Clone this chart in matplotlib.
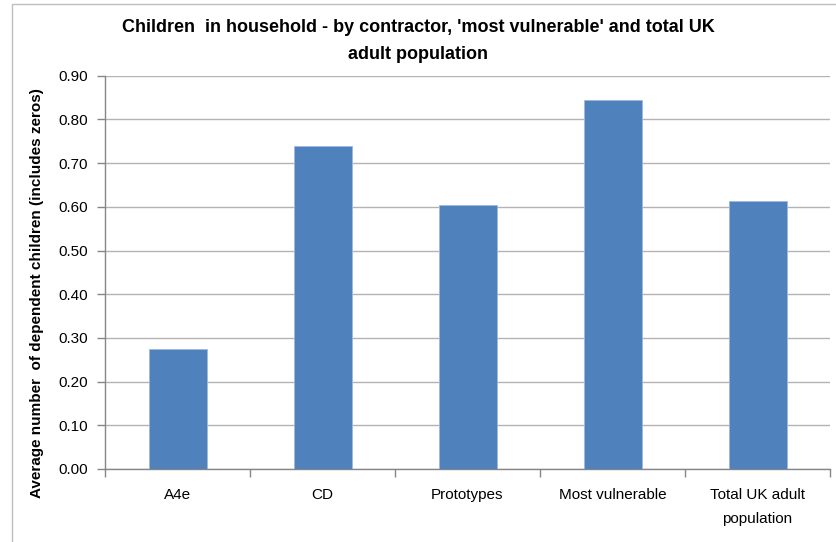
import matplotlib
matplotlib.use("Agg")
import matplotlib.pyplot as plt
from matplotlib.patches import Rectangle
import numpy as np

categories = ["A4e", "CD", "Prototypes", "Most vulnerable", "Total UK adult\npopulation"]
values = [0.274, 0.738, 0.603, 0.844, 0.613]
yticks = [0.0, 0.1, 0.2, 0.3, 0.4, 0.5, 0.6, 0.7, 0.8, 0.9]

plt.rcParams['font.family'] = ['Liberation Sans', 'DejaVu Sans']

fig = plt.figure(figsize=(8.36, 5.42), dpi=100)
fig.patches.append(Rectangle((12 / 836, -0.01), 0.99, 1 - 4 / 542 + 0.01,
                             transform=fig.transFigure, fill=False,
                             edgecolor="#bfbfbf", linewidth=1.0))

ax = fig.add_axes([105 / 836, 1 - 469 / 542, (830 - 105) / 836, (469 - 75.7) / 542])

x = np.arange(len(categories))
ax.bar(x, values, width=0.4, color="#4F81BD", edgecolor="#9db9dc", linewidth=0.6, zorder=3)

ax.set_xlim(-0.5, len(categories) - 0.5)
ax.set_ylim(0, 0.9)
ax.set_yticks(yticks)
ax.set_yticklabels([f"{v:.2f}" for v in yticks], fontsize=11)
ax.yaxis.grid(True, color="#b3b3b3", linewidth=1.0, zorder=0)

ax.set_xticks(x)
ax.set_xticklabels(categories, fontsize=11, linespacing=1.9)
ax.tick_params(axis="x", which="major", length=0, pad=14)
ax.set_xticks(np.arange(-0.5, len(categories)), minor=True)
ax.tick_params(axis="x", which="minor", length=6, color="#868686", width=1.0)
ax.tick_params(axis="y", length=6, color="#868686", width=1.0, pad=6)

for s in ["top", "right"]:
    ax.spines[s].set_visible(False)
for s in ["left", "bottom"]:
    ax.spines[s].set_color("#868686")
    ax.spines[s].set_linewidth(1.0)

fig.text(37 / 836, 1 - 293 / 542,
         "Average number  of dependent children (includes zeros)",
         rotation=90, ha="center", va="center", fontsize=11, fontweight="bold")

fig.text(0.5, 1 - 41 / 542,
         "Children  in household - by contractor, 'most vulnerable' and total UK\nadult population",
         ha="center", va="center", fontsize=13, fontweight="bold", linespacing=1.75)

fig.savefig("out.png", dpi=100)
